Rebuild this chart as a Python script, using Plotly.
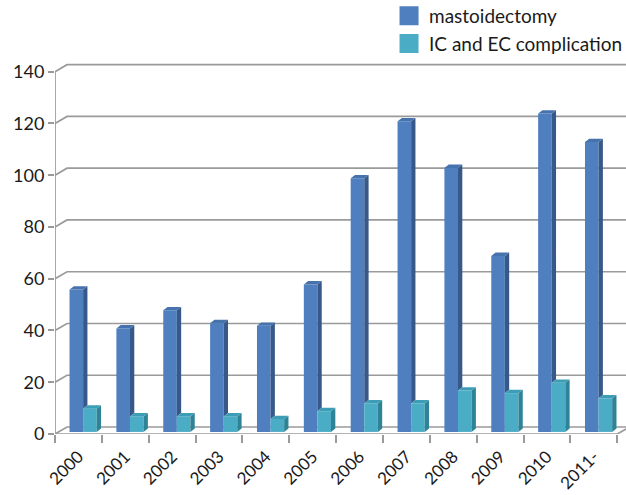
import plotly.graph_objects as go

# ---- data ----
years = ["2000", "2001", "2002", "2003", "2004", "2005", "2006", "2007", "2008", "2009", "2010", "2011-"]
mastoidectomy = [55, 40, 47, 42, 41, 57, 98, 120, 102, 68, 123, 112]
ic_ec = [9, 6, 6, 6, 5, 8, 11, 11, 16, 15, 19, 13]
y_ticks = [0, 20, 40, 60, 80, 100, 120, 140]

# ---- style / geometry ----
FONT = "Lato"
M_FRONT, M_SIDE, M_TOP = "#4F7FBE", "#36598A", "#4673AE"
I_FRONT, I_SIDE, I_TOP = "#4BACC6", "#2E8496", "#3E9DB6"
GRID = "#9A9A9A"
BASE = 0.8          # bars sit slightly back from the floor front edge
W = 0.29            # bar front-face width (category units)
OFF_M, OFF_I = -0.19, 0.10
DX, DY = 0.092, 1.3  # depth of bar 3D faces
WX, WY = 0.256, 2.7  # back-wall offset
X0, X1 = -0.5, len(years) - 0.5
XR = [-0.5, -0.5 + 571 / 46.86]
YR = [0, 371 / 2.588]

n = len(years)
xs = list(range(n))

fig = go.Figure()

# front faces (bars)
fig.add_trace(go.Bar(x=xs, y=mastoidectomy, base=[BASE] * n, width=[W] * n, offset=OFF_M,
                     marker=dict(color=M_FRONT, line=dict(width=0)), showlegend=False,
                     name="mastoidectomy"))
fig.add_trace(go.Bar(x=xs, y=ic_ec, base=[BASE] * n, width=[W] * n, offset=OFF_I,
                     marker=dict(color=I_FRONT, line=dict(width=0)), showlegend=False,
                     name="IC and EC complication"))


def poly_trace(polys, color):
    px, py = [], []
    for p in polys:
        for (a, b) in p:
            px.append(a)
            py.append(b)
        px.append(p[0][0])
        py.append(p[0][1])
        px.append(None)
        py.append(None)
    return go.Scatter(x=px, y=py, mode="lines", fill="toself", fillcolor=color,
                      line=dict(width=0, color=color), hoverinfo="skip", showlegend=False)


m_side, m_top, i_side, i_top = [], [], [], []
for i in xs:
    mt = BASE + mastoidectomy[i]
    it = BASE + ic_ec[i]
    mx0, mx1 = i + OFF_M, i + OFF_M + W
    ix0, ix1 = i + OFF_I, i + OFF_I + W
    # mastoidectomy side face, visible part above the IC bar
    m_side.append([(mx1, it), (mx1 + DX, it + DY), (mx1 + DX, mt + DY), (mx1, mt)])
    m_top.append([(mx0, mt), (mx0 + DX, mt + DY), (mx1 + DX, mt + DY), (mx1, mt)])
    i_side.append([(ix1, BASE), (ix1 + DX, BASE + DY), (ix1 + DX, it + DY), (ix1, it)])
    i_top.append([(ix0, it), (ix0 + DX, it + DY), (ix1 + DX, it + DY), (ix1, it)])

fig.add_trace(poly_trace(m_side, M_SIDE))
fig.add_trace(poly_trace(m_top, M_TOP))
fig.add_trace(poly_trace(i_side, I_SIDE))
fig.add_trace(poly_trace(i_top, I_TOP))

# legend entries
fig.add_trace(go.Scatter(x=[None], y=[None], mode="markers", name="mastoidectomy",
                         legendgroup="a",
                         marker=dict(symbol="square", size=16, color=M_FRONT,
                                     line=dict(width=3, color=M_FRONT))))
fig.add_trace(go.Scatter(x=[None], y=[None], mode="markers", name="IC and EC complication",
                         legendgroup="b",
                         marker=dict(symbol="square", size=16, color=I_FRONT,
                                     line=dict(width=3, color=I_FRONT))))

# back-wall gridlines, floor, axis lines
shapes = []
for v in y_ticks:
    shapes.append(dict(type="path", xref="x", yref="y",
                       path=f"M {X0},{v} L {X0 + WX},{v + WY} L {XR[1]},{v + WY}",
                       line=dict(color=GRID, width=1.7), layer="below"))
shapes.append(dict(type="path", xref="x", yref="y",
                   path=f"M {X0},0 L {X1},0 L {X1 + WX},{WY}",
                   line=dict(color=GRID, width=1.7), layer="above"))
shapes.append(dict(type="line", xref="x", yref="y", x0=X0, x1=X0, y0=0, y1=y_ticks[-1],
                   line=dict(color=GRID, width=1.7), layer="above"))

fig.update_layout(
    width=626, height=495,
    margin=dict(l=55, r=0, t=63, b=61, autoexpand=False),
    paper_bgcolor="white", plot_bgcolor="white",
    barmode="overlay",
    font=dict(family=FONT, size=17, color="#1a1a1a"),
    shapes=shapes,
    showlegend=True,
    legend=dict(x=0.585, y=1.178, xanchor="left", yanchor="top", xref="paper", yref="paper",
                font=dict(family=FONT, size=19, color="#1a1a1a"),
                tracegroupgap=0, bgcolor="rgba(0,0,0,0)"),
    xaxis=dict(range=XR, tickvals=xs, ticktext=years, tickangle=-45,
               showgrid=False, zeroline=False, showline=False, automargin=False,
               ticks="outside", ticklen=5, tickcolor="rgba(0,0,0,0)",
               tickfont=dict(family=FONT, size=17, color="#1a1a1a"),
               minor=dict(tickvals=[k - 0.5 for k in range(n + 1)], ticks="outside",
                          ticklen=8, tickcolor=GRID, tickwidth=1.5, showgrid=False),
               fixedrange=True),
    yaxis=dict(range=YR, tickvals=y_ticks, showgrid=False, zeroline=False, showline=False,
               automargin=False,
               ticks="outside", ticklen=6, tickcolor=GRID, tickwidth=1.5,
               tickfont=dict(family=FONT, size=18, color="#1a1a1a"), fixedrange=True),
)

fig.write_html("out.html")
